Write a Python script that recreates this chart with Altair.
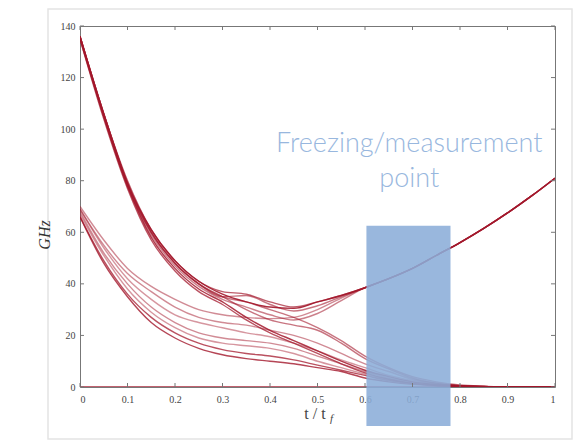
import altair as alt
import pandas as pd

# ---- data ----
t_vals = [0, .05, .1, .15, .2, .25, .3, .35, .4, .45, .5, .55, .6, .65, .7, .75, .8, .85, .9, .95, 1]
rise = [33, 35.5, 38.5, 42, 46, 51, 56, 61.5, 67.5, 74, 81]  # t = 0.5 .. 1.0

A1 = [136, 106, 79, 61, 49, 41, 36, 33, 31, 30.5] + rise
A2 = [136, 106, 80, 61, 49, 41, 37, 36, 33, 31] + rise
A3 = [135, 105, 78, 60, 48, 40, 35, 35.5, 32, 29.5, 31.5, 35, 38.5] + rise[3:]
A4 = [136, 105, 78, 58, 46, 38, 33, 27, 22, 18, 14, 10, 6.5, 4, 2, 1, 0.5, 0.2, 0, 0, 0]
A5 = [135, 104, 77, 57, 45, 37, 32, 26, 21, 17, 13, 9, 5.5, 3, 1.5, 0.8, 0.3, 0.1, 0, 0, 0]
A6 = [136, 106, 79, 60, 48, 40, 35, 30, 26, 24, 22, 17, 11, 7, 3.5, 1.5, 0.5, 0.2, 0, 0, 0]
A7 = [135, 105, 78, 59, 47, 39, 34, 31, 28, 26, 28.5, 33.5, 38.5] + rise[3:]
A8 = [136, 106, 79, 60, 48, 40, 35, 33, 30, 27, 23, 18, 12, 7.5, 4, 2, 0.8, 0.3, 0, 0, 0]
B1 = [70, 57, 46, 39, 34, 30, 28, 27, 26.5, 27, 30, 34.5, 38.5] + rise[3:]
B2 = [69, 55, 44, 37, 31, 27, 25, 24, 22, 20, 17, 13, 9, 6, 3, 1.5, 0.5, 0.2, 0, 0, 0]
B3 = [69, 54, 42, 34, 28, 25, 23, 21, 19.5, 17, 14, 10.5, 7.5, 4.5, 2.5, 1.2, 0.5, 0.2, 0, 0, 0]
B4 = [68, 52, 40, 31, 25, 21, 19, 18, 17, 15, 12, 9, 6, 3.5, 2, 1, 0.4, 0.1, 0, 0, 0]
B5 = [67, 51, 38, 29, 23, 19, 17, 16, 15, 13, 10, 7.5, 5, 3, 1.5, 0.8, 0.3, 0.1, 0, 0, 0]
B6 = [66, 49, 36, 27, 21, 17, 14.5, 13, 12, 10.5, 8.5, 6.5, 4.5, 2.5, 1.3, 0.6, 0.2, 0, 0, 0, 0]
B7 = [66, 48, 35, 25, 19, 15, 12.5, 11, 10, 9, 7.5, 6, 3.5, 2, 1, 0.5, 0.2, 0, 0, 0, 0]
Z0 = [0] * 21

series = {"A1": A1, "A2": A2, "A3": A3, "A4": A4, "A5": A5, "A6": A6, "A7": A7, "A8": A8,
          "B1": B1, "B2": B2, "B3": B3, "B4": B4, "B5": B5, "B6": B6, "B7": B7, "Z0": Z0}
alphas = {"A1": 0.9, "A2": 0.7, "A3": 0.6, "A4": 0.85, "A5": 0.75, "A6": 0.6, "A7": 0.55, "A8": 0.6,
          "B1": 0.5, "B2": 0.5, "B3": 0.45, "B4": 0.5, "B5": 0.45, "B6": 0.75, "B7": 0.8, "Z0": 0.9}

x_ticks = [0, 0.1, 0.2, 0.3, 0.4, 0.5, 0.6, 0.7, 0.8, 0.9, 1]
y_ticks = [0, 20, 40, 60, 80, 100, 120, 140]

freeze_x = [0.603, 0.78]
freeze_top = [62.5]
label_lines = ["Freezing/measurement", "point"]
label_pos = [(0.693, 91.0), (0.693, 77.5)]

rows = []
for name, vals in series.items():
    for t, v in zip(t_vals, vals):
        rows.append({"series": name, "t": t, "v": v, "alpha": alphas[name]})
df = pd.DataFrame(rows)

W, H = 475, 361
SERIF = "Liberation Serif"
xs = alt.Scale(domain=[0, 1], nice=False, zero=False)
ys = alt.Scale(domain=[0, 140], nice=False)

frame = alt.Chart(pd.DataFrame({"a": [0]})).mark_rect(
    fillOpacity=0, stroke="#e4e4e4", strokeWidth=1.5, clip=False
).encode(x=alt.value(-32), x2=alt.value(W + 17), y=alt.value(-17), y2=alt.value(H + 52))

lines = alt.Chart(df).mark_line(interpolate="monotone", strokeWidth=1.4, color="#a3172b", clip=True).encode(
    x=alt.X("t:Q", scale=xs,
            axis=alt.Axis(values=x_ticks, format="~g", title=None, domain=False, ticks=False,
                          grid=False, labelFont=SERIF, labelFontSize=10, labelColor="#444",
                          labelPadding=7)),
    y=alt.Y("v:Q", scale=ys,
            axis=alt.Axis(values=y_ticks, format="d", title=None, domain=False, ticks=False,
                          grid=False, labelFont=SERIF, labelFontSize=10, labelColor="#444",
                          labelPadding=5)),
    detail="series:N",
    opacity=alt.Opacity("alpha:Q", scale=None),
)

rect_df = pd.DataFrame({"x1": [freeze_x[0]], "x2e": [freeze_x[1]], "ytop": freeze_top})
freeze = alt.Chart(rect_df).mark_rect(color="#8badd8", opacity=0.88, clip=False).encode(
    x=alt.X("x1:Q", scale=xs), x2="x2e:Q",
    y=alt.Y("ytop:Q", scale=ys), y2=alt.value(H + 39),
)

xt = pd.DataFrame({"t": x_ticks})
yt = pd.DataFrame({"v": y_ticks})
tick_style = dict(color="#777", strokeWidth=1)
tb = alt.Chart(xt).mark_rule(**tick_style).encode(x=alt.X("t:Q", scale=xs), y=alt.value(H), y2=alt.value(H - 4))
tt = alt.Chart(xt).mark_rule(**tick_style).encode(x=alt.X("t:Q", scale=xs), y=alt.value(0), y2=alt.value(4))
tl = alt.Chart(yt).mark_rule(**tick_style).encode(y=alt.Y("v:Q", scale=ys), x=alt.value(0), x2=alt.value(4))
tr = alt.Chart(yt).mark_rule(**tick_style).encode(y=alt.Y("v:Q", scale=ys), x=alt.value(W), x2=alt.value(W - 4))

lab_df = pd.DataFrame({"txt": label_lines, "lx": [p[0] for p in label_pos], "ly": [p[1] for p in label_pos]})
labels = alt.Chart(lab_df).mark_text(font="Lato", fontSize=27, fontWeight=300, color="#98b7de",
                                      align="center", baseline="alphabetic").encode(
    x=alt.X("lx:Q", scale=xs), y=alt.Y("ly:Q", scale=ys), text="txt:N")

ytitle = alt.Chart(pd.DataFrame({"s": ["GHz"]})).mark_text(
    font=SERIF, fontSize=16, fontStyle="italic", angle=270, color="#333", clip=False
).encode(x=alt.value(-35), y=alt.value(209), text="s:N")

xtitle = alt.Chart(pd.DataFrame({"s": ["t / t"]})).mark_text(
    font=SERIF, fontSize=16, color="#444", clip=False, align="center"
).encode(x=alt.value(235), y=alt.value(H + 27), text="s:N")
xsub = alt.Chart(pd.DataFrame({"s": ["f"]})).mark_text(
    font=SERIF, fontSize=11, fontStyle="italic", color="#444", clip=False, align="left"
).encode(x=alt.value(250), y=alt.value(H + 32), text="s:N")

chart = alt.layer(frame, lines, freeze, tb, tt, tl, tr, labels, ytitle, xtitle, xsub).properties(
    width=W, height=H,
    autosize=alt.AutoSizeParams(type="none"),
    padding={"left": 80, "top": 26, "right": 23, "bottom": 53},
    background="white",
).configure_view(stroke="#777", strokeWidth=1)

chart.save("out.html", embed_options={"renderer": "svg", "actions": False})
